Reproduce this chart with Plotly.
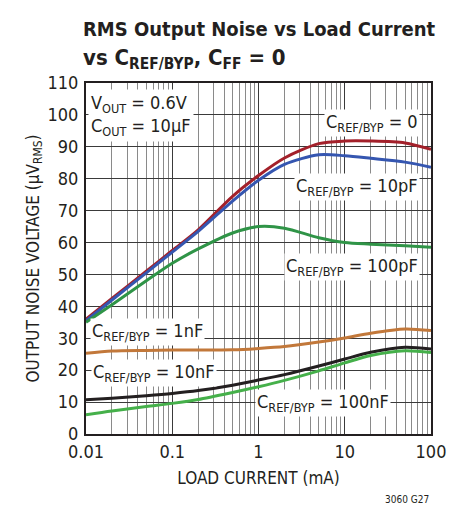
import numpy as np
import plotly.graph_objects as go

load_ma = [0.01, 0.02, 0.05, 0.1, 0.2, 0.5, 1, 2, 5, 10, 20, 50, 100]
noise_0 = [36, 42.5, 51, 57.5, 64, 74.5, 81, 86.5, 91, 91.8, 91.8, 91.2, 89.2]
noise_10pF = [35.5, 42, 50.5, 57, 63.5, 73, 79.5, 84.5, 87.5, 87.2, 86.4, 85.2, 83.6]
noise_100pF = [35, 40.5, 48, 53.5, 58, 63, 65, 64.5, 61.5, 60, 59.5, 59, 58.5]
noise_1nF = [25.3, 26, 26.2, 26.3, 26.3, 26.4, 26.8, 27.4, 28.8, 30.1, 31.6, 32.9, 32.4]
noise_10nF = [10.7, 11.2, 12, 12.7, 13.6, 15.3, 16.9, 18.6, 21.3, 23.5, 25.6, 27.2, 26.6]
noise_100nF = [6.0, 7.2, 8.6, 9.6, 10.8, 13.0, 14.8, 16.8, 19.8, 22.3, 24.6, 26.1, 25.5]

series = [
    ("C<sub>REF/BYP</sub> = 0", noise_0, "#a3202a"),
    ("C<sub>REF/BYP</sub> = 10pF", noise_10pF, "#3556b0"),
    ("C<sub>REF/BYP</sub> = 100pF", noise_100pF, "#2f9447"),
    ("C<sub>REF/BYP</sub> = 1nF", noise_1nF, "#c2783a"),
    ("C<sub>REF/BYP</sub> = 10nF", noise_10nF, "#231f20"),
    ("C<sub>REF/BYP</sub> = 100nF", noise_100nF, "#45b04a"),
]

FONT = "DejaVu Sans Condensed, Liberation Sans Narrow, Arial Narrow, sans-serif"
INK = "#231f20"

fig = go.Figure()
for name, ys, col in series:
    fig.add_trace(go.Scatter(x=load_ma, y=ys, mode="lines", name=name,
                             line=dict(color=col, width=3, shape="spline", smoothing=0.8)))

# label positions (x in mA, y in uV)
labels = [
    ("C<sub>REF/BYP</sub> = 0", 75, 97.4, "right"),
    ("C<sub>REF/BYP</sub> = 10pF", 75, 77.5, "right"),
    ("C<sub>REF/BYP</sub> = 100pF", 75, 52.4, "right"),
    ("C<sub>REF/BYP</sub> = 1nF", 0.0112, 32.1, "left"),
    ("C<sub>REF/BYP</sub> = 10nF", 0.0114, 19.0, "left"),
    ("C<sub>REF/BYP</sub> = 100nF", 0.9, 9.6, "left"),
]
for text, xv, yv, anc in labels:
    fig.add_annotation(x=np.log10(xv), y=yv, text=text, showarrow=False,
                       xanchor=anc, yanchor="middle", bgcolor="white",
                       font=dict(family=FONT, size=18, color=INK), borderpad=1)

fig.add_annotation(x=np.log10(0.0106), y=108, text="V<sub>OUT</sub> = 0.6V<br>C<sub>OUT</sub> = 10μF",
                   showarrow=False, xanchor="left", yanchor="top", align="left", bgcolor="white",
                   font=dict(family=FONT, size=18, color=INK), borderpad=2)

fig.add_annotation(xref="paper", yref="paper", x=0, y=1, xshift=-5, yshift=8,
                   text="<b><span style='font-size:20px'>RMS Output Noise vs Load Current</span><br>"
                        "vs C<sub>REF/BYP</sub>, C<sub>FF</sub> = 0</b>",
                   showarrow=False, xanchor="left", yanchor="bottom", align="left",
                   font=dict(family=FONT, size=22, color=INK))

fig.add_annotation(xref="paper", yref="paper", x=1.0, y=0, yshift=-73, text="3060 G27",
                   showarrow=False, xanchor="right", yanchor="bottom",
                   font=dict(family=FONT, size=10, color=INK))

fig.update_layout(
    width=450, height=500,
    margin=dict(l=78, r=21, t=75, b=74),
    paper_bgcolor="white", plot_bgcolor="white",
    showlegend=False,
    font=dict(family=FONT, color=INK),
)
fig.update_xaxes(type="log", range=[-2, 2], tickvals=[0.01, 0.1, 1, 10, 100],
                 ticktext=["0.01", "0.1", "1", "10", "100"],
                 showgrid=True, gridcolor="#3a3a3a", gridwidth=1,
                 minor=dict(showgrid=True, gridcolor="#8a8a8a", gridwidth=1,
                            tickvals=[m * 10.0 ** e for e in range(-2, 2) for m in range(2, 10)]),
                 showline=True, linecolor=INK, linewidth=2, mirror=True,
                 ticks="", tickfont=dict(size=18),
                 title=dict(text="LOAD CURRENT (mA)", font=dict(size=17), standoff=12),
                 zeroline=False)
fig.update_yaxes(range=[0, 110], dtick=10, showgrid=True, gridcolor="#3a3a3a", gridwidth=1,
                 showline=True, linecolor=INK, linewidth=2, mirror=True,
                 ticks="", tickfont=dict(size=18), ticklabelstandoff=2,
                 title=dict(text="OUTPUT NOISE VOLTAGE (μV<sub>RMS</sub>)", font=dict(size=17), standoff=4),
                 zeroline=False)

fig.write_html("out.html")
